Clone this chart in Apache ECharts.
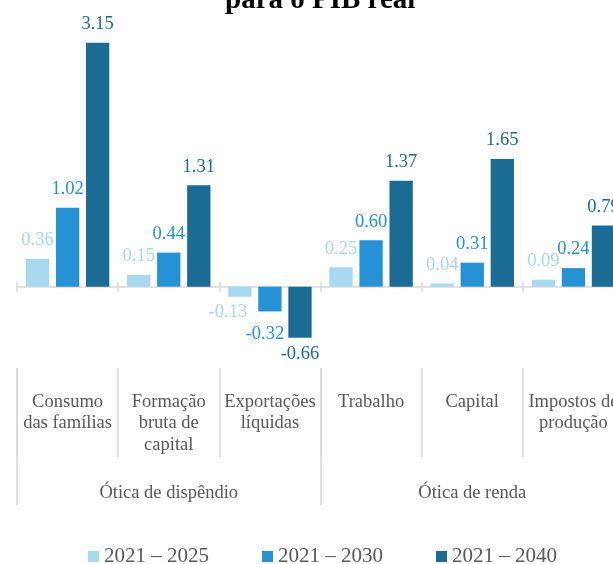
<!DOCTYPE html>
<html>
<head>
<meta charset="utf-8">
<script src="https://cdn.jsdelivr.net/npm/echarts@6/dist/echarts.min.js"></script>
<style>
  html, body { margin: 0; padding: 0; overflow: hidden; background: #fff; }
  #chart { width: 645px; height: 564px; }
</style>
</head>
<body>
<div id="chart"></div>
<script>
// dados do gráfico
var categorias = ['Consumo\ndas famílias', 'Formação\nbruta de\ncapital', 'Exportações\nlíquidas',
  'Trabalho', 'Capital', 'Impostos de\nprodução'];
var grupos = ['Ótica de dispêndio', 'Ótica de renda'];
var periodos = ['2021 – 2025', '2021 – 2030', '2021 – 2040'];
var v2025 = [0.36, 0.15, -0.13, 0.25, 0.04, 0.09];
var v2030 = [1.02, 0.44, -0.32, 0.60, 0.31, 0.24];
var v2040 = [3.15, 1.31, -0.66, 1.37, 1.65, 0.79];

var cores = ['#a6d9f0', '#2592d6', '#1b6c94'];
var fonte = 'Liberation Serif';
var cinza = '#595959';
var linha = '#d9d9d9';
// deslocamento dos rótulos negativos (como no original)
var rotNeg = [{ dx: -12, dist: 6 }, { dx: -5, dist: 13 }, { dx: 0, dist: 7 }];

var myChart = echarts.init(document.getElementById('chart'));

function serie(nome, valores, i) {
  return {
    name: nome,
    type: 'bar',
    xAxisIndex: 0,
    yAxisIndex: 0,
    barWidth: 23.3,
    barGap: '29%',
    itemStyle: { color: cores[i] },
    label: {
      show: true,
      position: 'top',
      distance: 9,
      color: cores[i],
      fontFamily: fonte,
      fontSize: 18.5,
      formatter: function (p) { return p.value.toFixed(2); }
    },
    data: valores.map(function (v) {
      if (v >= 0) return v;
      return { value: v, label: { position: 'bottom', distance: rotNeg[i].dist, offset: [rotNeg[i].dx, 0] } };
    })
  };
}

var gBase = { left: 17, right: 21, outerBoundsMode: 'none', containLabel: false };

myChart.setOption({
  backgroundColor: '#fff',
  animation: false,
  title: {
    text: 'para o PIB real',
    left: 220,
    top: -19,
    textStyle: { fontFamily: fonte, fontSize: 29, fontWeight: 'bold', color: '#000' }
  },
  legend: {
    data: periodos,
    left: 'center',
    top: 541,
    icon: 'rect',
    itemWidth: 11,
    itemHeight: 11,
    itemGap: 53,
    textStyle: { fontFamily: fonte, fontSize: 21, color: cinza }
  },
  grid: [
    Object.assign({ top: 23.5, bottom: 215.4 }, gBase),
    Object.assign({ top: 23.5, bottom: 215.4 }, gBase),
    Object.assign({ top: 368, bottom: 107 }, gBase),
    Object.assign({ top: 368, bottom: 59 }, gBase)
  ],
  xAxis: [
    {
      gridIndex: 0, type: 'category', data: categorias,
      axisLine: { onZero: true, lineStyle: { color: linha, width: 1.5 } },
      axisTick: { show: true, length: 5.5, lineStyle: { color: linha, width: 1.5 } },
      axisLabel: { show: false },
      splitLine: { show: false }
    },
    {
      gridIndex: 1, type: 'category', data: categorias,
      axisLine: { show: false, onZero: true },
      axisTick: { show: true, inside: true, length: 5, lineStyle: { color: linha, width: 1.5 } },
      axisLabel: { show: false },
      splitLine: { show: false }
    },
    {
      gridIndex: 2, type: 'category', data: categorias, position: 'top',
      axisLine: { show: false, onZero: false },
      axisTick: { show: false },
      axisLabel: {
        show: true, inside: true, interval: 0, margin: 23,
        fontFamily: fonte, fontSize: 18.5, lineHeight: 21.5, color: cinza, align: 'center'
      },
      splitLine: { show: true, interval: 0, lineStyle: { color: linha, width: 1.5 } }
    },
    {
      gridIndex: 3, type: 'category', data: grupos, position: 'bottom',
      axisLine: { show: false, onZero: false },
      axisTick: { show: false },
      axisLabel: {
        show: true, inside: true, interval: 0, margin: 2,
        fontFamily: fonte, fontSize: 18.5, color: cinza
      },
      splitLine: { show: true, interval: 0, lineStyle: { color: linha, width: 1.5 } }
    }
  ],
  yAxis: [
    { gridIndex: 0, type: 'value', min: -0.8, max: 3.4, show: false },
    { gridIndex: 1, type: 'value', min: -0.8, max: 3.4, show: false },
    { gridIndex: 2, type: 'value', min: 0, max: 1, show: false },
    { gridIndex: 3, type: 'value', min: 0, max: 1, show: false }
  ],
  series: [
    serie(periodos[0], v2025, 0),
    serie(periodos[1], v2030, 1),
    serie(periodos[2], v2040, 2)
  ]
});
</script>
</body>
</html>
